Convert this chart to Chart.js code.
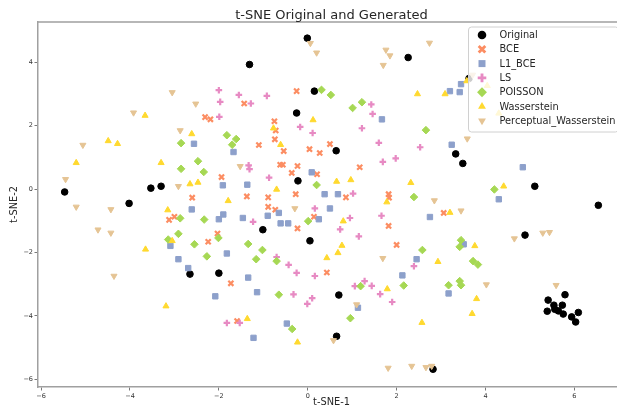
<!DOCTYPE html>
<html>
<head>
<meta charset="utf-8">
<title>t-SNE Original and Generated</title>
<script src="https://cdn.jsdelivr.net/npm/chart.js@4.4.1/dist/chart.umd.min.js"></script>
<style>
  html, body { margin: 0; padding: 0; background: #fff; }
  #wrap { position: relative; width: 617px; height: 407px; overflow: hidden; }
  #wrap canvas { position: absolute; left: 0; top: 0; }
</style>
</head>
<body>
<div id="wrap"><canvas id="tsneChart" width="640" height="407"></canvas></div>
<script>
  // t-SNE coordinates
  const original = [
    [-5.47,-0.09],[-3.53,0.03],[-3.30,0.09],[-4.02,-0.45],[-0.01,4.76],[2.26,4.15],[-1.31,3.93],[0.15,3.09],
    [-0.25,2.40],[0.64,1.21],[-0.22,0.26],[-1.01,-1.28],[0.05,-1.63],[-2.65,-2.68],[-2.00,-2.65],[0.70,-3.34],
    [0.65,-4.64],[3.33,1.11],[3.49,0.81],[5.11,0.09],[6.54,-0.51],[4.89,-1.45],[2.82,-5.68],[3.63,3.49],
    [5.79,-3.33],[5.41,-3.50],[5.54,-3.66],[5.73,-3.66],[5.39,-3.85],[5.56,-3.79],[5.64,-3.84],[5.75,-3.94],
    [5.94,-4.03],[6.09,-3.89],[6.03,-4.19]
  ];
  const bce = [
    [-2.31,2.27],[-2.19,2.20],[-1.94,0.38],[-2.60,-0.27],[-0.25,3.09],[-1.43,2.70],[-0.75,2.14],[-0.72,1.85],
    [-0.74,1.57],[-1.10,1.39],[-0.54,1.20],[0.04,1.26],[0.27,1.14],[0.50,1.42],[1.17,0.69],[-0.62,0.77],
    [-0.56,0.77],[-0.23,0.73],[-0.36,0.51],[0.21,0.47],[0.86,-0.26],[1.82,-0.16],[1.83,-0.27],[-1.37,-0.23],
    [-0.89,-0.26],[-0.27,-0.16],[-0.89,-0.56],[-0.73,-0.65],[0.14,-0.87],[-0.23,-1.24],[1.82,-1.16],[2.00,-1.76],
    [0.43,-2.63],[-1.59,-4.16],[-3.12,-0.97],[-3.00,-0.87],[-2.03,-1.40],[-2.24,-1.66],[-1.73,-2.97],[3.06,-0.75]
  ];
  const l1Bce = [
    [-2.56,1.43],[-1.67,1.17],[-1.91,0.12],[1.67,2.20],[0.09,0.53],[-1.36,0.14],[0.38,-0.16],[0.68,-0.16],
    [-0.65,-0.75],[-0.90,-0.84],[-1.46,-0.91],[0.50,-0.61],[0.25,-0.95],[-0.61,-1.08],[-0.44,-1.08],[-1.34,-2.79],
    [2.45,-2.21],[2.13,-2.72],[-1.14,-3.25],[1.13,-3.74],[-0.47,-4.24],[-1.22,-4.69],[-2.61,-0.64],[-2.00,-0.95],
    [-1.90,-0.80],[-3.09,-1.79],[-1.82,-2.03],[-2.91,-2.21],[-2.69,-2.49],[-2.08,-3.38],[3.24,1.40],[4.84,0.69],
    [4.30,-0.32],[2.75,-0.88],[3.51,-1.74],[3.17,-3.29],[3.20,3.09],[3.45,3.31],[3.42,3.06]
  ];
  const ls = [
    [-2.00,3.12],[-1.97,2.75],[-1.99,2.28],[-1.55,2.97],[-0.92,2.94],[-1.28,2.70],[1.43,2.67],[1.46,2.37],
    [-0.17,1.96],[1.22,1.92],[0.11,1.77],[1.60,1.46],[2.53,1.32],[1.98,0.97],[1.69,0.86],[-1.33,0.75],
    [-1.31,0.63],[-0.87,0.36],[1.02,-0.14],[-1.23,-1.03],[0.16,-0.61],[0.95,-0.91],[0.73,-1.27],[1.66,-0.84],
    [1.15,-1.49],[-0.70,-2.14],[-0.43,-2.39],[-0.25,-2.64],[0.16,-2.74],[2.39,-2.43],[1.28,-2.90],[1.44,-3.05],
    [1.06,-3.06],[1.63,-3.31],[1.90,-3.56],[-0.32,-3.32],[0.10,-3.44],[-0.01,-3.62],[-1.53,-4.22],[-1.82,-4.22]
  ];
  const poisson = [
    [-1.82,1.70],[-1.61,1.58],[-1.70,1.40],[-2.85,1.45],[-2.47,0.88],[-2.85,0.64],[-2.34,0.54],[0.31,3.13],
    [0.52,2.97],[1.22,2.74],[1.01,2.56],[2.66,1.86],[0.20,0.13],[2.39,-0.25],[0.01,-1.01],[-1.34,-1.73],
    [-1.02,-1.92],[-1.16,-2.21],[-0.70,-2.27],[2.58,-1.92],[2.16,-3.04],[1.19,-3.06],[-0.65,-3.33],[0.96,-4.07],
    [-0.35,-4.41],[-2.87,-0.92],[-2.33,-0.96],[-2.91,-1.41],[-3.14,-1.59],[-2.01,-1.54],[-2.55,-1.74],[-2.27,-2.12],
    [4.20,-0.01],[3.45,-1.61],[3.42,-1.82],[3.72,-2.27],[3.83,-2.38],[3.17,-3.03],[3.42,-2.90],[3.45,-3.03]
  ];
  const wasserstein = [
    [-3.66,2.32],[-2.61,1.74],[-4.49,1.52],[-4.28,1.43],[-5.21,0.83],[-3.30,0.83],[-2.65,0.16],[-2.47,0.21],
    [-1.79,-0.37],[2.47,3.00],[0.12,2.18],[-0.77,1.92],[-0.61,1.40],[-0.70,-0.01],[0.65,0.24],[0.97,0.29],
    [2.32,0.20],[1.78,-0.41],[0.80,-1.01],[0.77,-1.78],[0.68,-2.01],[0.43,-2.17],[1.79,-3.15],[-1.36,-4.09],
    [-0.23,-4.83],[2.57,-4.21],[-3.15,-0.66],[-3.05,-1.63],[-3.65,-1.90],[-3.19,-3.69],[4.41,0.09],[3.20,-0.74],
    [3.76,-1.79],[2.93,-2.29],[3.80,-3.46],[3.70,-3.93],[3.09,3.00],[3.58,3.41],[4.04,3.26],[4.30,2.39]
  ];
  const perceptual = [
    [-3.05,3.05],[-2.52,2.69],[-3.92,2.41],[-2.87,1.85],[-5.06,1.39],[-5.45,0.31],[-2.91,0.09],[0.06,4.60],
    [0.20,4.30],[1.76,4.39],[1.85,4.21],[1.70,3.91],[2.74,4.61],[-1.52,0.72],[-0.29,-0.61],[1.69,-2.18],
    [1.10,-3.64],[0.58,-4.77],[1.81,-5.64],[2.34,-5.58],[2.66,-5.62],[2.79,-5.58],[-5.21,-0.56],[-4.43,-0.64],
    [-4.72,-1.28],[-4.43,-1.38],[-4.36,-2.74],[3.59,1.59],[2.85,-0.36],[3.45,-0.68],[4.65,-1.56],[5.29,-1.38],
    [5.44,-1.36],[4.02,-3.01],[5.59,-3.03],[3.71,3.60]
  ];

  const seriesNames = ["Original", "BCE", "L1_BCE", "LS", "POISSON", "Wasserstein", "Perceptual_Wasserstein"];
  const seriesData = [original, bce, l1Bce, ls, poisson, wasserstein, perceptual];
  const seriesColors = ["#000000", "#fc8d62", "#8da0cb", "#e78ac3", "#a6d854", "#ffd92f", "#e5c494"];
  const seriesStyles = ["circle", "crossRot", "rect", "cross", "rectRot", "triangle", "triangle"];
  const seriesRotation = [0, 0, 0, 0, 0, 0, 180];
  const seriesRadius = [3.3, 3.6, 3.8, 3.3, 3.8, 3.5, 3.5];
  const seriesBorder = [1, 2.2, 1, 2.2, 1, 1, 1];

  const xTicks = [-6, -4, -2, 0, 2, 4, 6];
  const xTickLabels = ["\u22126", "\u22124", "\u22122", "0", "2", "4", "6"];
  const yTicks = [-6, -4, -2, 0, 2, 4];
  const yTickLabels = ["\u22126", "\u22124", "\u22122", "0", "2", "4"];

  const X_MIN = -6.07, X_MAX = 7.14;
  const Y_MIN = -6.24, Y_MAX = 5.27;
  const FONT = '"DejaVu Sans", "Liberation Sans", sans-serif';
  const SPINE = "#a0a0a0";
  const TEXT = "#262626";

  // draws one legend marker (chart markers come from chart.js itself)
  function drawMarker(ctx, style, rot, x, y, r, color, lw) {
    ctx.save();
    ctx.translate(x, y);
    ctx.rotate(rot * Math.PI / 180);
    ctx.fillStyle = color;
    ctx.strokeStyle = color;
    ctx.lineWidth = lw;
    ctx.beginPath();
    if (style == "circle") {
      ctx.arc(0, 0, r, 0, Math.PI * 2);
      ctx.fill();
    } else if (style == "rect") {
      const s = r * Math.SQRT1_2;
      ctx.rect(-s, -s, 2 * s, 2 * s);
      ctx.fill();
    } else if (style == "rectRot") {
      ctx.moveTo(0, -r); ctx.lineTo(r, 0); ctx.lineTo(0, r); ctx.lineTo(-r, 0);
      ctx.closePath();
      ctx.fill();
    } else if (style == "triangle") {
      ctx.moveTo(0, -r);
      ctx.lineTo(r * Math.sin(Math.PI * 2 / 3), -r * Math.cos(Math.PI * 2 / 3));
      ctx.lineTo(-r * Math.sin(Math.PI * 2 / 3), -r * Math.cos(Math.PI * 2 / 3));
      ctx.closePath();
      ctx.fill();
    } else if (style == "cross") {
      ctx.moveTo(0, -r); ctx.lineTo(0, r);
      ctx.moveTo(-r, 0); ctx.lineTo(r, 0);
      ctx.stroke();
    } else if (style == "crossRot") {
      const d = r * Math.SQRT1_2;
      ctx.moveTo(-d, -d); ctx.lineTo(d, d);
      ctx.moveTo(-d, d); ctx.lineTo(d, -d);
      ctx.stroke();
    }
    ctx.restore();
  }

  const decorPlugin = {
    id: "decor",
    afterDraw(chart) {
      const ctx = chart.ctx;
      const a = chart.chartArea;
      ctx.save();

      // top and right spine
      ctx.strokeStyle = SPINE;
      ctx.lineWidth = 1.5;
      ctx.beginPath();
      ctx.moveTo(a.left, a.top);
      ctx.lineTo(a.right, a.top);
      ctx.lineTo(a.right, a.bottom);
      ctx.stroke();

      // title + axis labels
      const cx = (a.left + a.right) / 2;
      ctx.fillStyle = TEXT;
      ctx.textAlign = "center";
      ctx.textBaseline = "alphabetic";
      ctx.font = "13px " + FONT;
      ctx.fillText("t-SNE Original and Generated", cx, 18.5);
      ctx.textBaseline = "middle";
      ctx.font = "9.8px " + FONT;
      ctx.fillText("t-SNE-1", cx, 402);
      ctx.save();
      ctx.translate(14, (a.top + a.bottom) / 2);
      ctx.rotate(-Math.PI / 2);
      ctx.fillText("t-SNE-2", 0, 0);
      ctx.restore();

      // legend box, upper right
      const lx = 468.5, ly = 27, lw = 150, lh = 105;
      ctx.fillStyle = "rgba(255,255,255,0.8)";
      ctx.strokeStyle = "#d0d0d0";
      ctx.lineWidth = 1;
      ctx.beginPath();
      ctx.roundRect(lx, ly, lw, lh, 3);
      ctx.fill();
      ctx.stroke();

      ctx.font = "9.8px " + FONT;
      ctx.textAlign = "left";
      ctx.textBaseline = "middle";
      seriesNames.forEach((name, i) => {
        const y = 35 + i * 14.3;
        drawMarker(ctx, seriesStyles[i], seriesRotation[i], 482, y, seriesRadius[i] * 1.3,
                   seriesColors[i], seriesBorder[i] * 1.3);
        ctx.fillStyle = TEXT;
        ctx.fillText(name, 499.5, y + 0.5);
      });
      ctx.restore();
    }
  };

  var datasets = seriesNames.map((name, i) => ({
    label: name,
    data: seriesData[i].map(p => ({ x: p[0], y: p[1] })),
    backgroundColor: seriesColors[i],
    borderColor: seriesColors[i],
    borderWidth: seriesBorder[i],
    pointStyle: seriesStyles[i],
    pointRotation: seriesRotation[i],
    pointRadius: seriesRadius[i],
    pointHoverRadius: seriesRadius[i],
    order: seriesNames.length - i
  }));

  function axisOpts(min, max, ticks, labels) {
    return {
      type: "linear",
      min: min,
      max: max,
      afterBuildTicks: (s) => { s.ticks = ticks.map(v => ({ value: v })); },
      ticks: {
        autoSkip: false,
        maxRotation: 0,
        padding: 1.5,
        color: "#333",
        font: { family: FONT, size: 6.5 },
        callback: (v, i) => labels[i]
      },
      grid: {
        display: true,
        drawOnChartArea: false,
        drawTicks: true,
        tickLength: 3.5,
        tickColor: "#555",
        tickWidth: 0.8
      },
      border: { display: true, color: SPINE, width: 1.5 }
    };
  }

  var xScale = axisOpts(X_MIN, X_MAX, xTicks, xTickLabels);
  xScale.afterFit = (s) => { s.height = 20; };
  var yScale = axisOpts(Y_MIN, Y_MAX, yTicks, yTickLabels);
  yScale.afterFit = (s) => { s.width = 38; };

  var ctxTsne = document.getElementById("tsneChart").getContext("2d");
  var tsneChart = new Chart(ctxTsne, {
    type: "scatter",
    data: { datasets: datasets },
    options: {
      responsive: false,
      animation: false,
      devicePixelRatio: 1,
      layout: { padding: { top: 22, right: 15, left: 0, bottom: 0 } },
      plugins: {
        legend: { display: false },
        title: { display: false },
        tooltip: { enabled: false }
      },
      scales: { x: xScale, y: yScale }
    },
    plugins: [decorPlugin]
  });
</script>
</body>
</html>
